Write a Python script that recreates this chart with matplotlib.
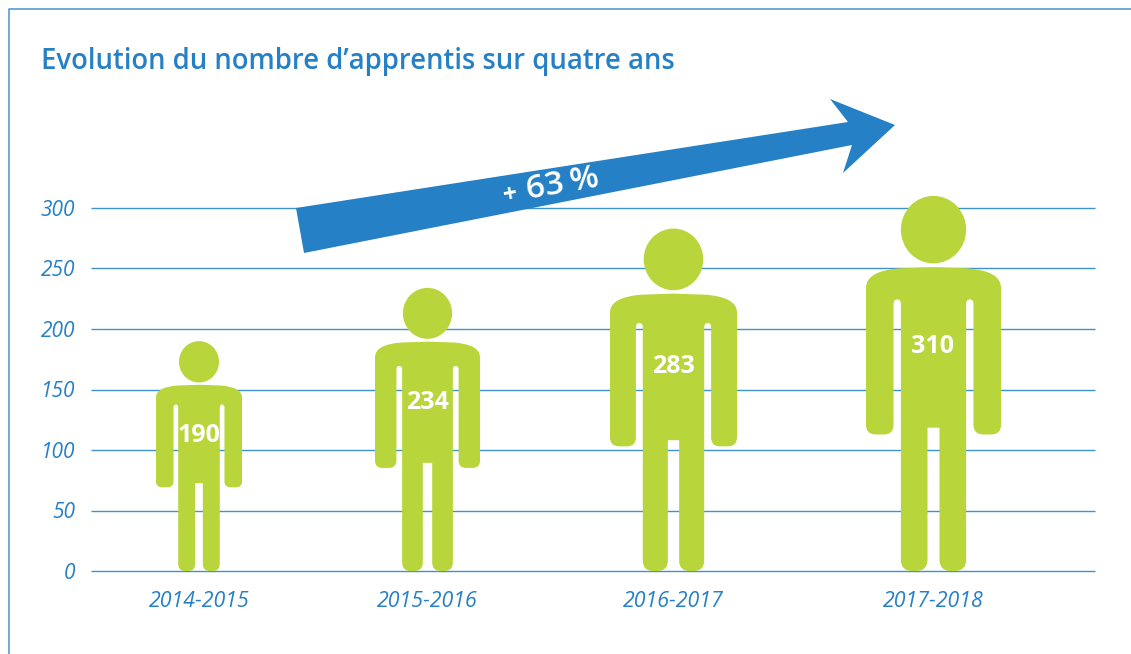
import matplotlib
matplotlib.use('Agg')
import matplotlib.pyplot as plt
from matplotlib.patches import Ellipse, PathPatch, Polygon
from matplotlib.path import Path

plt.rcParams['font.family'] = ['Open Sans', 'DejaVu Sans']

years = ['2014-2015', '2015-2016', '2016-2017', '2017-2018']
apprentis = [190, 234, 283, 310]
y_ticks = [0, 50, 100, 150, 200, 250, 300]

BLUE = '#2680c5'
GRID = '#3f92d2'
GREEN = '#b8d53b'
W, H = 1131, 654

# figure pixels of the plot area, centre and shoulder width of each person
left, right, top, bottom = 91, 1095, 208, 571
centres = [199, 427.5, 673.5, 933.5]
widths = [86, 105, 127, 135]
px_per_unit = (bottom - top) / 300


def half_body():
    # right half of the body, unit = height of the person, half width = 0.18
    return [
        (Path.LINETO, (0.016, 0.382)), (Path.LINETO, (0.016, 0.03)),
        (Path.CURVE3, (0.016, 0.0)), (Path.CURVE3, (0.046, 0.0)),
        (Path.LINETO, (0.057, 0.0)),
        (Path.CURVE3, (0.087, 0.0)), (Path.CURVE3, (0.087, 0.03)),
        (Path.LINETO, (0.087, 0.712)),
        (Path.CURVE3, (0.087, 0.724)), (Path.CURVE3, (0.097, 0.724)),
        (Path.CURVE3, (0.1066, 0.724)), (Path.CURVE3, (0.1066, 0.712)),
        (Path.LINETO, (0.1066, 0.39)),
        (Path.CURVE3, (0.1066, 0.364)), (Path.CURVE3, (0.132, 0.364)),
        (Path.LINETO, (0.154, 0.364)),
        (Path.CURVE3, (0.18, 0.364)), (Path.CURVE3, (0.18, 0.39)),
        (Path.LINETO, (0.18, 0.755)),
        (Path.CURVE3, (0.18, 0.80)), (Path.CURVE3, (0.09, 0.807)),
        (Path.LINETO, (0.0, 0.81)),
    ]


def person(ax, cx, value, width):
    x_scale = width / (2 * 0.18)
    right_side = half_body()
    pts = [(0.016, 0.382)] + [p for _, p in right_side]
    verts = list(pts)
    codes = [Path.MOVETO] + [c for c, _ in right_side]
    # same outline walked back on the other side
    for i in range(len(right_side) - 1, -1, -1):
        verts.append((-pts[i][0], pts[i][1]))
        codes.append(right_side[i][0])
    verts.append((0.016, 0.382))
    codes.append(Path.CLOSEPOLY)
    xy = [(cx + u * x_scale, v * value) for u, v in verts]
    ax.add_patch(PathPatch(Path(xy, codes), fc=GREEN, ec='none', zorder=3))
    ax.add_patch(Ellipse((cx, value * 0.91), 0.174 * value * px_per_unit, 0.18 * value,
                         fc=GREEN, ec='none', zorder=3, clip_on=False))
    ax.text(cx - 0.5, value * 0.607 - 3, str(value), color='white', fontsize=18,
            fontweight='bold', ha='center', va='center', zorder=4)


fig = plt.figure(figsize=(W / 100, H / 100), dpi=100)
ax = fig.add_axes([left / W, 1 - bottom / H, (right - left) / W, (bottom - top) / H])
ax.set_xlim(left, right)
ax.set_ylim(0, 300)
for s in ax.spines.values():
    s.set_visible(False)
ax.patch.set_alpha(0)
for t in y_ticks:
    ax.axhline(t, color=GRID, lw=1, zorder=1, clip_on=False, solid_capstyle='butt')

ax.set_yticks(y_ticks)
ax.set_yticklabels(y_ticks, fontsize=15, style='italic', color=BLUE)
ax.set_xticks(centres)
ax.set_xticklabels(years, fontsize=15.4, style='italic', color=BLUE)
ax.tick_params(axis='y', length=0, pad=11.5)
ax.tick_params(axis='x', length=0, pad=14.5)

for cx, value, width in zip(centres, apprentis, widths):
    person(ax, cx, value, width)

# frame, title and arrow are placed in figure pixels
over = fig.add_axes([0, 0, 1, 1])
over.set_xlim(0, W)
over.set_ylim(H, 0)
over.axis('off')
over.plot([9, 9, W], [H, 9, 9], color=BLUE, lw=1.1, alpha=0.85)
over.text(41, 61, 'Evolution du nombre d’apprentis sur quatre ans', color=BLUE,
          fontsize=19.8, fontweight='semibold', ha='left', va='center')
over.add_patch(Polygon([(296, 208), (848, 122), (830, 99), (895, 125), (843, 173),
                        (852, 145), (304, 253)], closed=True, fc=BLUE, ec='none'))
over.text(510, 195, '+', color='white', fontsize=18, fontweight='bold',
          rotation=10, rotation_mode='anchor', ha='center', va='center')
over.text(563, 184, '63\u2009%', color='white', fontsize=24, fontweight='semibold',
          rotation=10, rotation_mode='anchor', ha='center', va='center')

fig.savefig('out.png', dpi=100)
